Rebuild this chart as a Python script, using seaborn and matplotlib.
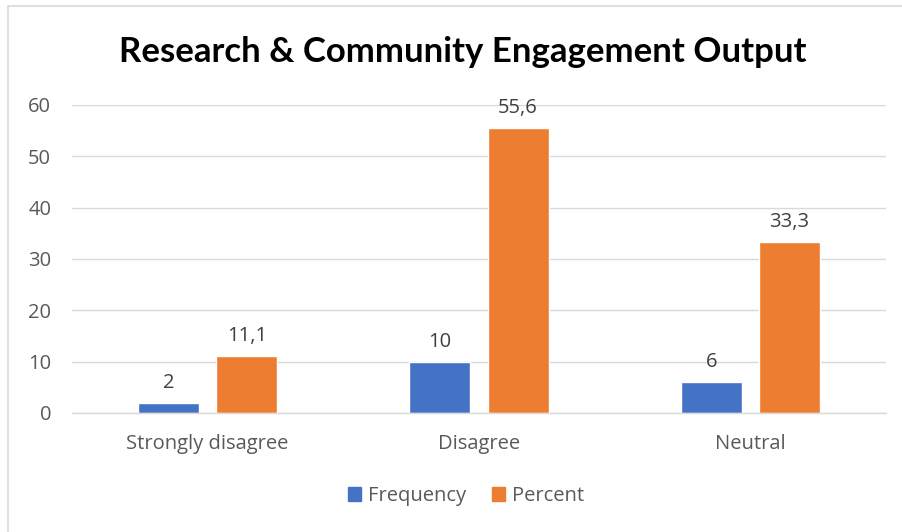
import matplotlib
matplotlib.use("Agg")
import matplotlib.pyplot as plt
import seaborn as sns
import pandas as pd
from matplotlib.patches import Rectangle

categories = ["Strongly disagree", "Disagree", "Neutral"]
frequency = [2, 10, 6]
percent = [11.1, 55.6, 33.3]
series_names = ["Frequency", "Percent"]
y_ticks = [0, 10, 20, 30, 40, 50, 60]

df = pd.DataFrame({
    "category": categories * 2,
    "series": [series_names[0]] * len(categories) + [series_names[1]] * len(categories),
    "value": frequency + percent,
})

sns.set_theme(style="white")
plt.rcParams["font.family"] = ["Open Sans", "DejaVu Sans"]

fig = plt.figure(figsize=(9.02, 5.32), dpi=100)
ax = fig.add_axes([72 / 902, 1 - 413 / 532, 814 / 902, 308 / 532])

palette = {"Frequency": "#4472C4", "Percent": "#ED7D31"}
sns.barplot(data=df, x="category", y="value", hue="series", hue_order=series_names,
            order=categories, palette=palette, width=0.576, gap=0.22,
            saturation=1, ax=ax, legend=False)

ax.set_xlim(-0.5, 2.5)
ax.set_ylim(0, 60)
ax.set_yticks(y_ticks)
ax.yaxis.grid(True, color="#D9D9D9", linewidth=1)
ax.set_axisbelow(True)
for side in ["top", "right", "left"]:
    ax.spines[side].set_visible(False)
ax.spines["bottom"].set_color("#D9D9D9")
ax.spines["bottom"].set_linewidth(1)
ax.tick_params(axis="both", length=0, labelsize=14.5, colors="#595959")
ax.tick_params(axis="y", pad=15)
ax.tick_params(axis="x", pad=15)
ax.set_xlabel("")
ax.set_ylabel("")

for container in ax.containers:
    labels = [f"{b.get_height():g}".replace(".", ",") for b in container]
    ax.bar_label(container, labels=labels, padding=7, fontsize=14.5, color="#404040")

fig.text(463 / 902, 1 - 52 / 532, "Research & Community Engagement Output",
         ha="center", va="center", fontsize=25, fontweight="bold", color="black",
         family=["Lato", "DejaVu Sans"])

handles = [Rectangle((0, 0), 1, 1, color=palette[n]) for n in series_names]
fig.legend(handles, series_names, loc="center", bbox_to_anchor=(466 / 902, 1 - 496 / 532),
           ncol=2, frameon=False, fontsize=14.5, labelcolor="#595959",
           handlelength=0.65, handleheight=0.65, handletextpad=0.35, columnspacing=1.3)

fig.patches.append(Rectangle((8 / 902, -0.1), 1.2, 1 - 6 / 532 + 0.1, transform=fig.transFigure,
                             fill=False, edgecolor="#D9D9D9", linewidth=1.2))

fig.savefig("out.png", dpi=100)
